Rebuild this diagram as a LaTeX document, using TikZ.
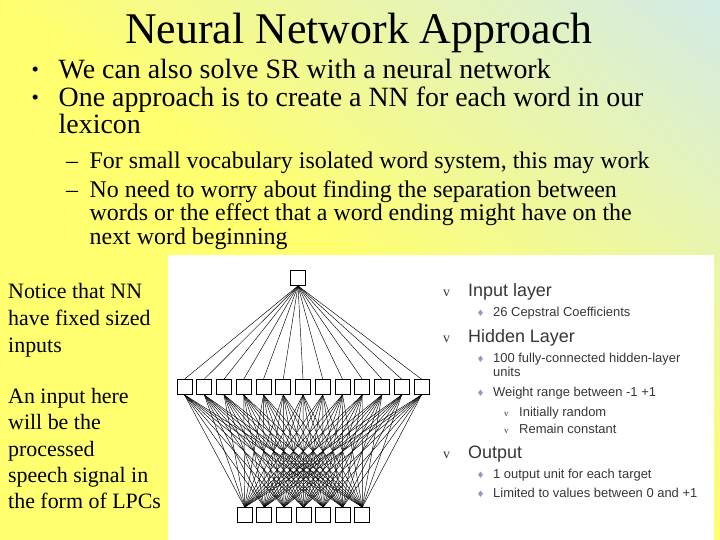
\documentclass[tikz,border=0pt]{standalone}
\usepackage{fontspec}
\setmainfont{Liberation Serif}
\newfontfamily\arialfont{Liberation Sans}
\newfontfamily\symfont{DejaVu Sans}
\usepackage{tikz}
\usetikzlibrary{shapes,arrows}
\definecolor{bgyellow}{RGB}{255,255,112}
\definecolor{bgteal}{RGB}{212,236,230}
\definecolor{slidegray}{RGB}{55,55,55}
\definecolor{lavender}{RGB}{150,150,200}
\tikzstyle{unit} = [rectangle, draw, line width=0.7pt, fill=white,
    minimum size=15bp, inner sep=0pt]
\tikzstyle{link} = [draw, line width=0.45pt]
\tikzstyle{txt} = [anchor=base west, inner sep=0pt]
\tikzstyle{lvlone} = [txt, font=\fontsize{28}{32}\selectfont]
\tikzstyle{dotmark} = [txt, font=\fontsize{21}{24}\selectfont]
\tikzstyle{lvltwo} = [txt, font=\fontsize{24}{28}\selectfont]
\tikzstyle{note} = [txt, font=\fontsize{22}{26}\selectfont]
\tikzstyle{head} = [txt, text=slidegray, font=\arialfont\fontsize{18}{20}\selectfont]
\tikzstyle{item} = [txt, text=slidegray, font=\arialfont\fontsize{13}{15}\selectfont]
\tikzstyle{vmark} = [txt, text=slidegray, font=\fontsize{14}{16}\selectfont]
\tikzstyle{smallv} = [txt, text=slidegray, font=\fontsize{9}{11}\selectfont]
\tikzstyle{dmark} = [txt, text=lavender, font=\symfont\fontsize{9}{11}\selectfont]

\begin{document}
\begin{tikzpicture}[x=1bp, y=-1bp]
    \useasboundingbox (0,0) rectangle (720,540);
    % Background
    \begin{scope}
        \clip (0,0) rectangle (720,540);
        \fill[bgyellow] (0,0) rectangle (720,540);
        \foreach \k in {0,...,47} {
            \pgfmathsetmacro{\dA}{\k*9}
            \pgfmathsetmacro{\dB}{\k*9+9.6}
            \pgfmathsetmacro{\mix}{100-\k*100/47}
            \fill[bgyellow!\mix!bgteal] ({0.6*\dA-80},{-0.8*\dA-60}) -- ({0.6*\dA+800},{-0.8*\dA+600})
                -- ({0.6*\dB+800},{-0.8*\dB+600}) -- ({0.6*\dB-80},{-0.8*\dB-60}) -- cycle;
        }
    \end{scope}
    \fill[white] (168,255) rectangle (714,540);

    % Title and bullets
    \node[anchor=base, inner sep=0pt, font=\fontsize{44}{50}\selectfont] (title) at (359,43.5) {Neural Network Approach};
    \node[dotmark] (dot1) at (31.5,77) {•};
    \node[lvlone] (b1) at (58.5,79) {We can also solve SR with a neural network};
    \node[dotmark] (dot2) at (31.5,104.5) {•};
    \node[lvlone] (b2) at (58.5,106.5) {One approach is to create a NN for each word in our};
    \node[lvlone] (b2b) at (58.5,134) {lexicon};
    \node[lvltwo] (dash1) at (66,168.3) {–};
    \node[lvltwo] (s1) at (89.5,168.3) {For small vocabulary isolated word system, this may work};
    \node[lvltwo] (dash2) at (66,197.3) {–};
    \node[lvltwo] (s2) at (89.5,197.3) {No need to worry about finding the separation between};
    \node[lvltwo] (s2b) at (89.5,221) {words or the effect that a word ending might have on the};
    \node[lvltwo] (s2c) at (89.5,244.5) {next word beginning};

    % Side notes
    \node[note] (n1) at (8,298) {Notice that NN};
    \node[note] (n2) at (8,325) {have fixed sized};
    \node[note] (n3) at (8,352) {inputs};
    \node[note] (n4) at (8,403) {An input here};
    \node[note] (n5) at (8,429.5) {will be the};
    \node[note] (n6) at (8,456) {processed};
    \node[note] (n7) at (8,482) {speech signal in};
    \node[note] (n8) at (8,508) {the form of LPCs};

    % Network units
    \node[unit] (out) at (298,278) {};
    \foreach \i in {1,...,13}
        \node[unit] (hid\i) at ({184.5+19.75*(\i-1)},387) {};
    \foreach \j in {1,...,7}
        \node[unit] (inp\j) at ({244.7+19.6*(\j-1)},515) {};

    % Connections
    \foreach \i in {1,...,13} {
        \path[link] (out.south) -- (hid\i.north);
        \foreach \j in {1,...,7}
            \path[link] (hid\i.south) -- (inp\j.north);
    }

    % Legend
    \node[vmark] (v1) at (443,296.5) {v};
    \node[head] (inlayer) at (468,296.5) {Input layer};
    \node[dmark] (d1) at (476.5,316) {♦};
    \node[item] (ceps) at (493,316) {26 Cepstral Coefficients};
    \node[vmark] (v2) at (443,342) {v};
    \node[head] (hidlayer) at (468,342) {Hidden Layer};
    \node[dmark] (d2) at (476.5,362) {♦};
    \node[item] (hunits) at (493,362) {100 fully-connected hidden-layer};
    \node[item] (hunitsb) at (493,376) {units};
    \node[dmark] (d3) at (476.5,396) {♦};
    \node[item] (wrange) at (493,396) {Weight range between -1 +1};
    \node[smallv] (v3) at (504,416) {v};
    \node[item] (initr) at (519,416) {Initially random};
    \node[smallv] (v4) at (504,433) {v};
    \node[item] (remc) at (519,433) {Remain constant};
    \node[vmark] (v5) at (443,458.5) {v};
    \node[head] (outlayer) at (468,458.5) {Output};
    \node[dmark] (d4) at (476.5,478.5) {♦};
    \node[item] (ounit) at (493,478.5) {1 output unit for each target};
    \node[dmark] (d5) at (476.5,497.5) {♦};
    \node[item] (olim) at (493,497.5) {Limited to values between 0 and +1};
\end{tikzpicture}
\end{document}
